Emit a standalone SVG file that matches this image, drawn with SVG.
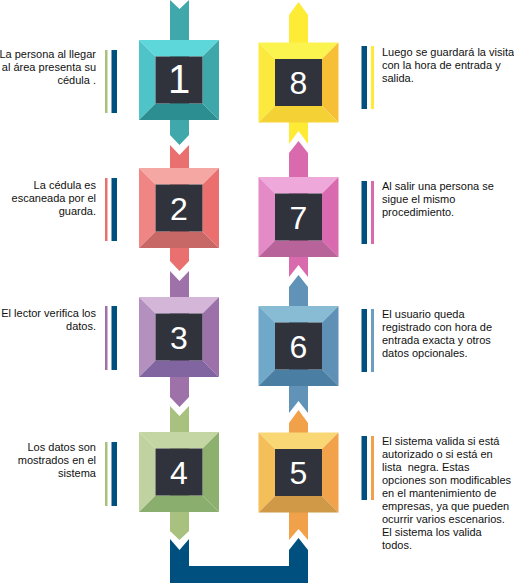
<svg xmlns="http://www.w3.org/2000/svg" xmlns:xlink="http://www.w3.org/1999/xlink" width="514" height="583" viewBox="0 0 514 583">
<style>
.txt{font-family:"Liberation Sans",Arial,sans-serif;font-size:11px;fill:#111;white-space:pre}
.l{text-anchor:end}
.num{font-family:"Liberation Sans",Arial,sans-serif;font-size:32px;fill:#fff;text-anchor:middle}
.inner{fill:#30333c}
.navy{fill:#00507f}
</style>
<defs>
<polygon id="bt" points="0,0 80,0 63.5,16.5 16.5,16.5"/>
<polygon id="br" points="80,0 80,80 63.5,63.5 63.5,16.5"/>
<polygon id="bb" points="0,80 80,80 63.5,63.5 16.5,63.5"/>
<polygon id="bl" points="0,0 16.5,16.5 16.5,63.5 0,80"/>
</defs>
<rect width="514" height="583" fill="#fff"/>
<g id="connectors">
<polygon fill="#40a8ab" points="170,0 179.5,9 189,0 189,135 179.5,145 170,135"/>
<polygon fill="#e9706f" points="170,145 179.5,155 189,145 189,261 179.5,271 170,261"/>
<polygon fill="#9e72a8" points="170,271 179.5,281 189,271 189,397 179.5,407 170,397"/>
<polygon fill="#a8c17f" points="170,406 179.5,416 189,406 189,531 179.5,540 170,531"/>
<polygon class="navy" points="170,539 179.5,550 189,539 189,566 289,566 289,550 298.5,538 308,550 308,583 170,583"/>
<polygon fill="#fdeb36" points="289,15 298.5,2 308,15 308,144 298.5,131 289,144"/>
<polygon fill="#d96aae" points="289,153 298.5,141 308,153 308,277 298.5,265 289,277"/>
<polygon fill="#6093b7" points="289,287 298.5,275 308,287 308,413 298.5,401 289,413"/>
<polygon fill="#f1a14a" points="289,423 298.5,410 308,423 308,540 298.5,529 289,540"/>
</g>
<g id="node1">
<g transform="translate(139,40)">
<use xlink:href="#bt" fill="#5ed7db"/><use xlink:href="#bl" fill="#4fc4c8"/><use xlink:href="#br" fill="#3ea7aa"/><use xlink:href="#bb" fill="#2d8e91"/>
<rect class="inner" x="16.5" y="16.5" width="47" height="47"/>
</g>
<text class="num" x="179" y="93" style="font-size:40px">1</text>
<rect x="105" y="50" width="2.5" height="63" fill="#a8c17f"/>
<rect class="navy" x="111.5" y="50" width="5.5" height="63"/>
<text class="txt l" x="96" y="58">La persona al llegar</text>
<text class="txt l" x="96" y="71">al área presenta su</text>
<text class="txt l" x="96" y="84">cédula .</text>
</g>
<g id="node2">
<g transform="translate(139,168)">
<use xlink:href="#bt" fill="#f5a7a4"/><use xlink:href="#bl" fill="#ef8683"/><use xlink:href="#br" fill="#ea6f6e"/><use xlink:href="#bb" fill="#c76766"/>
<rect class="inner" x="16.5" y="16.5" width="47" height="47"/>
</g>
<text class="num" x="179" y="219.5">2</text>
<rect x="105" y="178" width="2.5" height="63" fill="#e9706f"/>
<rect class="navy" x="111.5" y="178" width="5.5" height="63"/>
<text class="txt l" x="96" y="189">La cédula es</text>
<text class="txt l" x="96" y="202">escaneada por el</text>
<text class="txt l" x="96" y="215">guarda.</text>
</g>
<g id="node3">
<g transform="translate(139,297)">
<use xlink:href="#bt" fill="#d4b6d9"/><use xlink:href="#bl" fill="#b390be"/><use xlink:href="#br" fill="#9c70a9"/><use xlink:href="#bb" fill="#8065a0"/>
<rect class="inner" x="16.5" y="16.5" width="47" height="47"/>
</g>
<text class="num" x="179" y="348.5">3</text>
<rect x="105" y="306" width="2.5" height="64" fill="#9e72a8"/>
<rect class="navy" x="111.5" y="306" width="5.5" height="64"/>
<text class="txt l" x="96" y="317">El lector verifica los</text>
<text class="txt l" x="96" y="330">datos.</text>
</g>
<g id="node4">
<g transform="translate(139,432)">
<use xlink:href="#bt" fill="#c4d6a4"/><use xlink:href="#bl" fill="#c0d29f"/><use xlink:href="#br" fill="#8eb06f"/><use xlink:href="#bb" fill="#8aae6e"/>
<rect class="inner" x="16.5" y="16.5" width="47" height="47"/>
</g>
<text class="num" x="179" y="483.5">4</text>
<rect x="105" y="442" width="2.5" height="64" fill="#a8c17f"/>
<rect class="navy" x="111.5" y="442" width="5.5" height="64"/>
<text class="txt l" x="96" y="450.5">Los datos son</text>
<text class="txt l" x="96" y="463.5">mostrados en el</text>
<text class="txt l" x="96" y="476.5">sistema</text>
</g>
<g id="node5">
<g transform="translate(258.5,432.5)">
<use xlink:href="#bt" fill="#f9d774"/><use xlink:href="#bl" fill="#f4be58"/><use xlink:href="#br" fill="#f1a24a"/><use xlink:href="#bb" fill="#cf9947"/>
<rect class="inner" x="16.5" y="16.5" width="47" height="47"/>
</g>
<text class="num" x="298.5" y="484">5</text>
<rect class="navy" x="361.5" y="436" width="5.5" height="64"/>
<rect x="371" y="436" width="3" height="64" fill="#f1a14a"/>
<text class="txt" x="382" y="445">El sistema valida si está</text>
<text class="txt" x="382" y="458">autorizado o si está en</text>
<text class="txt" x="382" y="471">lista  negra. Estas</text>
<text class="txt" x="382" y="484">opciones son modificables</text>
<text class="txt" x="382" y="497">en el mantenimiento de</text>
<text class="txt" x="382" y="510">empresas, ya que pueden</text>
<text class="txt" x="382" y="523">ocurrir varios escenarios.</text>
<text class="txt" x="382" y="536">El sistema los valida</text>
<text class="txt" x="382" y="549">todos.</text>
</g>
<g id="node6">
<g transform="translate(258.5,306)">
<use xlink:href="#bt" fill="#88bcd4"/><use xlink:href="#bl" fill="#6fa8c8"/><use xlink:href="#br" fill="#5f91b6"/><use xlink:href="#bb" fill="#4a7fa3"/>
<rect class="inner" x="16.5" y="16.5" width="47" height="47"/>
</g>
<text class="num" x="298.5" y="357.5">6</text>
<rect class="navy" x="361.5" y="309" width="5.5" height="63"/>
<rect x="371" y="309" width="3" height="63" fill="#6d9ec0"/>
<text class="txt" x="382" y="318">El usuario queda</text>
<text class="txt" x="382" y="331">registrado con hora de</text>
<text class="txt" x="382" y="344">entrada exacta y otros</text>
<text class="txt" x="382" y="357">datos opcionales.</text>
</g>
<g id="node7">
<g transform="translate(258.5,177)">
<use xlink:href="#bt" fill="#eea8d9"/><use xlink:href="#bl" fill="#e48ac7"/><use xlink:href="#br" fill="#d96ab0"/><use xlink:href="#bb" fill="#b8649a"/>
<rect class="inner" x="16.5" y="16.5" width="47" height="47"/>
</g>
<text class="num" x="298.5" y="228.5">7</text>
<rect class="navy" x="361.5" y="181" width="5.5" height="63"/>
<rect x="371" y="181" width="3" height="63" fill="#d96aae"/>
<text class="txt" x="382" y="189.5">Al salir una persona se</text>
<text class="txt" x="382" y="202.5">sigue el mismo</text>
<text class="txt" x="382" y="215.5">procedimiento.</text>
</g>
<g id="node8">
<g transform="translate(258.5,42.5)">
<use xlink:href="#bt" fill="#fbf44f"/><use xlink:href="#bl" fill="#fbe93d"/><use xlink:href="#br" fill="#f7bf36"/><use xlink:href="#bb" fill="#f4d236"/>
<rect class="inner" x="16.5" y="16.5" width="47" height="47"/>
</g>
<text class="num" x="298.5" y="94">8</text>
<rect class="navy" x="361.5" y="46" width="5.5" height="63"/>
<rect x="371" y="46" width="3" height="63" fill="#fdeb36"/>
<text class="txt" x="382" y="56">Luego se guardará la visita</text>
<text class="txt" x="382" y="69">con la hora de entrada y</text>
<text class="txt" x="382" y="82">salida.</text>
</g>
</svg>
